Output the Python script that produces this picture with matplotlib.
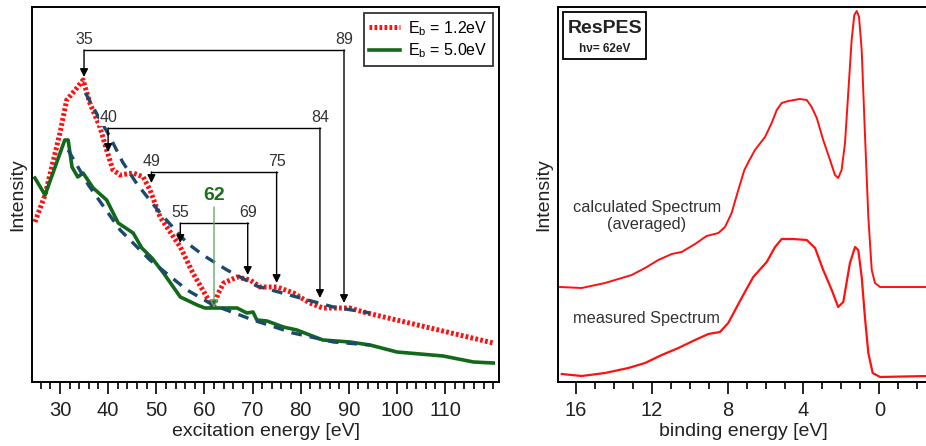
import numpy as np
import matplotlib.pyplot as plt
from matplotlib.ticker import MultipleLocator

plt.rcParams['font.family'] = ['Liberation Sans', 'DejaVu Sans']

# left panel: intensity vs excitation energy (arb. units)
red_x = [24.8, 26.9, 30.0, 31.4, 33.5, 34.8, 36.2, 38.3, 39.7, 41.0, 42.5, 45.2, 47.3, 48.7, 50.8,
         55.0, 57.6, 60.5, 61.8, 62.9, 64.0, 66.8, 69.5, 71.6, 75.1, 78.5, 81.9, 84.6, 90.2, 93.8, 120]
red_y = [160, 187, 249, 282, 294, 302, 279, 255, 232, 212, 207, 209, 205, 192, 165,
         135, 109, 85, 74, 89, 99, 105, 102, 95, 95, 89, 79, 74, 74, 69, 39]

green_x = [24.8, 26.9, 31.0, 31.7, 32.5, 33.7, 34.8, 36.9, 39.7, 42.1, 45.2, 47.0, 49.1, 51.5, 55.0,
           58.5, 60.1, 63.2, 66.8, 68.8, 70.1, 70.9, 73.0, 76.4, 79.2, 84.6, 90.2, 94.4, 100, 109.6, 115.9, 120]
green_y = [204, 187, 242, 242, 215, 205, 209, 194, 182, 159, 149, 134, 124, 109, 85,
           77, 74, 74, 74, 69, 70, 62, 61, 55, 52, 42, 40, 37, 30, 26, 20, 19]

fit1_x = [35.3, 38, 40.4, 43, 46, 50.8, 56.4, 60, 64.7, 70.9, 78.4, 86.8, 94.4]
fit1_y = [289, 265, 245, 220, 198, 169, 139, 126, 112, 96, 86, 75, 69]
fit2_x = [31.7, 35.9, 42.5, 48.7, 56.4, 61.8, 70.1, 78.4, 86.8, 94.4]
fit2_y = [232, 197, 152, 122, 92, 77, 62, 49, 40, 37]

# brackets: (left energy, right energy, bar height, left tip, right tip)
pairs = [(35, 89, 332, 305, 79), (40, 84, 254, 230, 84), (49, 75, 210, 199, 99), (55, 69, 159, 139, 107)]

# right panel: spectra vs binding energy
calc_x = [16.84, 15.7, 14.47, 13.06, 12.36, 11.66, 10.95, 10.43, 9.72, 9.11, 8.49, 8.14, 7.79, 7.44,
          7.12, 6.85, 6.56, 6.03, 5.68, 5.41, 5.15, 4.8, 4.19, 3.83, 3.57, 3.3, 2.96, 2.6, 2.34, 2.17,
          1.99, 1.81, 1.64, 1.46, 1.32, 1.19, 1.07, 0.93, 0.76, 0.58, 0.4, 0.23, -0.04, -2.6]
calc_y = [95, 94, 99, 107, 114, 122, 128, 130, 138, 146, 149, 155, 169, 192,
          212, 222, 232, 245, 259, 272, 279, 281, 283, 282, 275, 264, 242, 222, 207, 204,
          212, 239, 289, 342, 367, 371, 365, 332, 249, 165, 112, 99, 95, 95]
meas_x = [16.75, 15.7, 14.47, 13.24, 12.36, 11.48, 10.6, 9.72, 9.02, 8.41, 7.97, 7.52, 7.12,
          6.65, 5.94, 5.5, 5.15, 4.54, 3.83, 3.39, 2.96, 2.51, 2.17, 1.9, 1.55, 1.28, 1.11,
          0.93, 0.76, 0.58, 0.35, -0.04, -2.6]
meas_y = [8, 6, 9, 14, 19, 27, 34, 42, 48, 50, 59, 75, 89,
          105, 120, 135, 143, 143, 142, 134, 112, 92, 75, 80, 119, 135, 132,
          105, 65, 29, 9, 5, 6]

fig = plt.figure(figsize=(9.26, 4.46), dpi=100)
ax1 = fig.add_axes([0.0346, 0.1435, 0.5043, 0.8408])
ax2 = fig.add_axes([0.6026, 0.1435, 0.3996, 0.8408])

dark = '#1b4a6b'
ax1.plot(red_x, red_y, color='#ff1010', lw=3.6, ls=(0, (0.55, 0.45)), label='E$_\\mathregular{b}$ = 1.2eV')
ax1.plot(green_x, green_y, color='#13691a', lw=2.6, label='E$_\\mathregular{b}$ = 5.0eV')
ax1.plot(fit1_x, fit1_y, color=dark, lw=2.4, ls=(0, (3.2, 2.4)))
ax1.plot(fit2_x, fit2_y, color=dark, lw=2.4, ls=(0, (3.2, 2.4)))

for a, b, h, ta, tb in pairs:
    ax1.plot([a, b], [h, h], color='k', lw=1)
    for e, t in ((a, ta), (b, tb)):
        ax1.annotate('', xy=(e, t), xytext=(e, h),
                     arrowprops=dict(arrowstyle='-|>', color='k', lw=1, mutation_scale=12, shrinkA=0, shrinkB=0))
        ax1.text(e, h + 3, str(e), ha='center', va='bottom', fontsize=11.5, color='#333333',
                 bbox=dict(fc='white', ec='none', pad=0.5))

ax1.annotate('', xy=(62, 74), xytext=(62, 175),
             arrowprops=dict(arrowstyle='-|>', ec='#6aa86a', fc='#1d6e1d', lw=1, mutation_scale=12, shrinkA=0, shrinkB=0))
ax1.text(62, 178, '62', ha='center', va='bottom', fontsize=14, fontweight='bold', color='#1d6e1d')

ax1.set_xlim(24.2, 121.2)
ax1.set_ylim(0, 375)
ax1.xaxis.set_minor_locator(MultipleLocator(2))
ax1.set_xticks([30, 40, 50, 60, 70, 80, 90, 100, 110])
ax1.set_yticks([])
ax1.set_xlabel('excitation energy [eV]', fontsize=14, color='#222222', labelpad=2)
ax1.set_ylabel('Intensity', fontsize=14, color='#222222', labelpad=4)
leg = ax1.legend(loc='upper right', fontsize=11.5, frameon=True, fancybox=False, handlelength=1.9,
                 borderaxespad=0.4, handletextpad=0.5, borderpad=0.35, labelspacing=0.25)
leg.get_frame().set_edgecolor('k')
leg.get_frame().set_linewidth(1.3)

ax2.plot(calc_x, calc_y, color='#ff1010', lw=1.4)
ax2.plot(meas_x, meas_y, color='#ff1010', lw=1.6)
ax2.text(12.27, 166, 'calculated Spectrum\n(averaged)', ha='center', va='center', fontsize=11.7,
         color='#333333', linespacing=1.1)
ax2.text(12.3, 63, 'measured Spectrum', ha='center', va='center', fontsize=11.7, color='#333333')
ax2.text(0.126, 0.944, 'ResPES', transform=ax2.transAxes, ha='center', va='center', fontsize=14,
         fontweight='bold', color='#222222')
ax2.text(0.126, 0.889, 'h\u03bd= 62eV', transform=ax2.transAxes, ha='center', va='center', fontsize=8.5,
         fontweight='bold', color='#222222')
ax2.add_patch(plt.Rectangle((0.0127, 0.861), 0.225, 0.126, transform=ax2.transAxes, fill=False,
                            ec='k', lw=1.3))

ax2.set_xlim(16.95, -2.57)
ax2.set_ylim(0, 375)
ax2.xaxis.set_major_locator(MultipleLocator(4))
ax2.xaxis.set_minor_locator(MultipleLocator(1))
ax2.set_yticks([])
ax2.set_xlabel('binding energy [eV]', fontsize=14, color='#222222', labelpad=2)
ax2.set_ylabel('Intensity', fontsize=14, color='#222222', labelpad=4)

for ax in (ax1, ax2):
    for s in ax.spines.values():
        s.set_linewidth(1.4)
    ax.tick_params(axis='x', which='major', direction='out', length=8.5, width=1.2, labelsize=14.5,
                   labelcolor='#222222', pad=5)
    ax.tick_params(axis='x', which='minor', direction='out', length=5, width=1.2)

fig.savefig('out.png', dpi=100)
